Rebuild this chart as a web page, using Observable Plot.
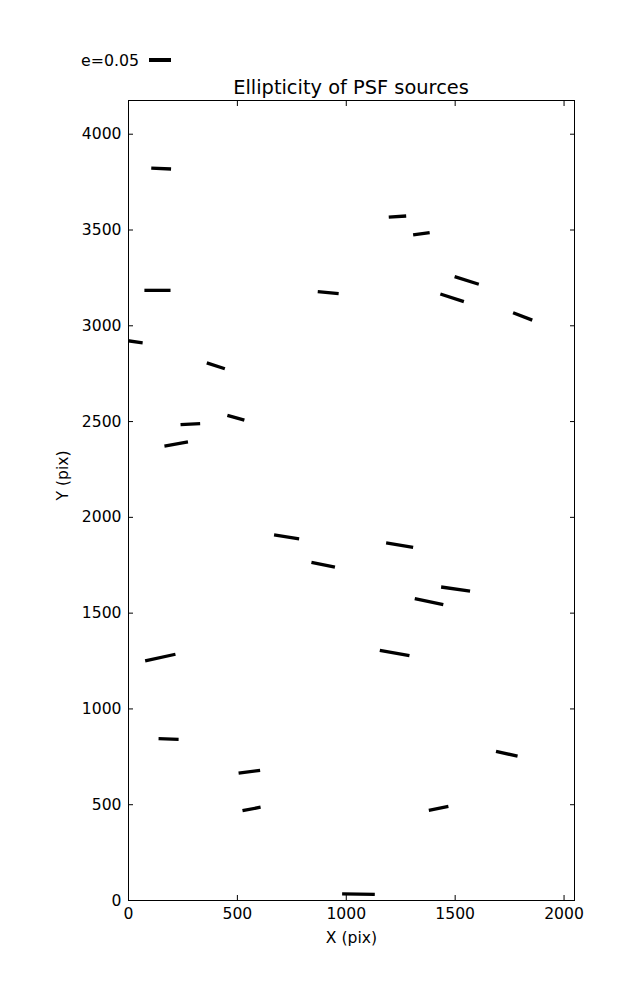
<!DOCTYPE html>
<html>
<head>
<meta charset="utf-8">
<script src="https://cdn.jsdelivr.net/npm/d3@7"></script>
<script src="https://cdn.jsdelivr.net/npm/@observablehq/plot@0.6"></script>
<style>
  body { margin: 0; background: #fff; font-family: "DejaVu Sans", sans-serif; }
  #wrap { position: relative; width: 637px; height: 1000px; }
  #wrap svg { position: absolute; left: 0; top: 0; }
  #title { position: absolute; left: 128px; width: 446px; top: 76px; text-align: center;
           font-size: 19.4px; line-height: 24px; color: #000; z-index: 2; }
  #legend { position: absolute; left: 81px; top: 50px; height: 20px; display: flex; align-items: center;
            font-size: 15.8px; color: #000; z-index: 2; }
  #legend .bar { width: 22px; height: 3.3px; background: #000; margin-left: 10px; }
</style>
</head>
<body>
<div id="wrap">
  <div id="legend"><span>e=0.05</span><span class="bar"></span></div>
  <div id="title">Ellipticity of PSF sources</div>
</div>
<script>
// PSF source positions (pix) and whisker components (pix)
const srcX  = [150, 133, 15, 401, 917, 1235, 1345, 1553, 1486, 1810, 284, 219, 493, 726, 894, 1245, 1502, 1380, 146, 1222, 184, 555, 1737, 565, 1424, 1056];
const srcY  = [3821, 3185, 2919, 2791, 3173, 3570, 3480, 3237, 3146, 3049, 2487, 2383, 2520, 1898, 1753, 1855, 1626, 1560, 1268, 1292, 843, 672, 766, 478, 481, 33];
const whiskDX = [91, 120, 100, 83, 96, 80, 76, 111, 108, 88, 90, 108, 78, 115, 108, 124, 133, 131, 139, 136, 92, 99, 99, 83, 90, 150];
const whiskDY = [-5, 0, -16, -31, -10, 6, 12, -40, -40, -39, 5, 22, -25, -20, -25, -23, -21, -32, 35, -28, -3, 14, -24, 18, 20, -3];
const xTicks = [0, 500, 1000, 1500, 2000];
const yTicks = [0, 500, 1000, 1500, 2000, 2500, 3000, 3500, 4000];
const xLabel = "X (pix)";
const yLabel = "Y (pix)";

const data = srcX.map((x, i) => ({x, y: srcY[i], dx: whiskDX[i], dy: whiskDY[i]}));

const chart = Plot.plot({
  width: 637,
  height: 1000,
  marginTop: 100,
  marginBottom: 100,
  marginLeft: 128,
  marginRight: 63,
  x: {domain: [0, 2048]},
  y: {domain: [0, 4176]},
  style: {fontFamily: "DejaVu Sans, sans-serif", fontSize: "15.6px", color: "#000", background: "transparent"},
  marks: [
    Plot.link(data, {
      x1: d => d.x - d.dx / 2, y1: d => d.y - d.dy / 2,
      x2: d => d.x + d.dx / 2, y2: d => d.y + d.dy / 2,
      stroke: "#000", strokeWidth: 3.3, strokeLinecap: "butt", clip: true
    }),
    Plot.frame({stroke: "#000", strokeWidth: 1}),
    Plot.axisX({anchor: "bottom", ticks: xTicks, tickSize: -5, tickPadding: 12, label: null, tickFormat: d => String(d)}),
    Plot.axisX({anchor: "top", ticks: xTicks, tickSize: -5, label: null, tickFormat: () => ""}),
    Plot.axisY({anchor: "left", ticks: yTicks, tickSize: -5, tickPadding: 12, label: null, tickFormat: d => String(d)}),
    Plot.axisY({anchor: "right", ticks: yTicks, tickSize: -5, label: null, tickFormat: () => ""}),
    Plot.text([xLabel], {frameAnchor: "bottom", dy: 42, text: d => d, fontSize: 15.6, fill: "#000"}),
    Plot.text([yLabel], {frameAnchor: "left", dx: -66, rotate: -90, text: d => d, fontSize: 15.6, fill: "#000"})
  ]
});
document.getElementById("wrap").appendChild(chart);
</script>
</body>
</html>
